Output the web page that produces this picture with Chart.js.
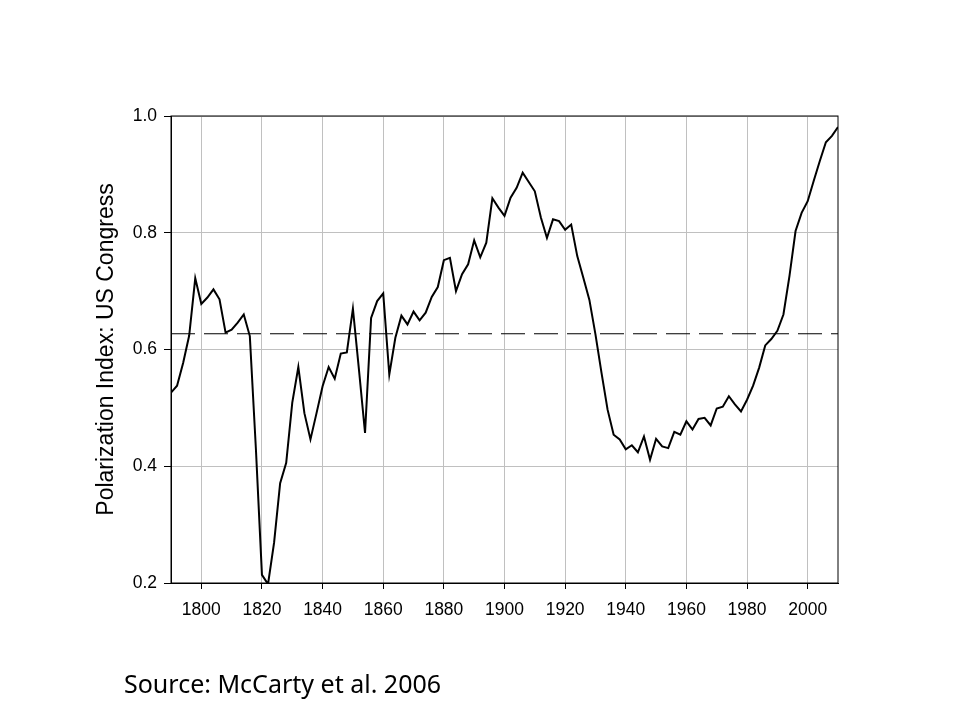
<!DOCTYPE html>
<html>
<head>
<meta charset="utf-8">
<script src="https://cdn.jsdelivr.net/npm/chart.js@4.4.1/dist/chart.umd.min.js"></script>
<style>
  html, body { margin: 0; padding: 0; background: #fff; }
  #wrap { position: relative; width: 960px; height: 720px; }
  #source {
    position: absolute; left: 124px; top: 666px;
    font-family: "Comic Sans MS", "Noto Sans", sans-serif;
    font-size: 25px; color: #000; white-space: nowrap;
  }
</style>
</head>
<body>
<div id="wrap">
  <canvas id="polarChart" width="960" height="720"></canvas>
  <div id="source">Source: McCarty et al. 2006</div>
</div>
<script>
// congress years (every 2 years) and polarization index
const years = [
  1790, 1792, 1794, 1796, 1798, 1800, 1802, 1804, 1806, 1808,
  1810, 1812, 1814, 1816, 1818, 1820, 1822, 1824, 1826, 1828,
  1830, 1832, 1834, 1836, 1838, 1840, 1842, 1844, 1846, 1848,
  1850, 1852, 1854, 1856, 1858, 1860, 1862, 1864, 1866, 1868,
  1870, 1872, 1874, 1876, 1878, 1880, 1882, 1884, 1886, 1888,
  1890, 1892, 1894, 1896, 1898, 1900, 1902, 1904, 1906, 1908,
  1910, 1912, 1914, 1916, 1918, 1920, 1922, 1924, 1926, 1928,
  1930, 1932, 1934, 1936, 1938, 1940, 1942, 1944, 1946, 1948,
  1950, 1952, 1954, 1956, 1958, 1960, 1962, 1964, 1966, 1968,
  1970, 1972, 1974, 1976, 1978, 1980, 1982, 1984, 1986, 1988,
  1990, 1992, 1994, 1996, 1998, 2000, 2002, 2004, 2006, 2008,
  2010
];
const polarization = [
  0.526, 0.538, 0.577, 0.624, 0.722, 0.678, 0.689, 0.703, 0.686, 0.629,
  0.634, 0.646, 0.660, 0.623, 0.430, 0.214, 0.198, 0.269, 0.371, 0.406,
  0.509, 0.570, 0.491, 0.446, 0.491, 0.537, 0.570, 0.550, 0.593, 0.595,
  0.670, 0.565, 0.457, 0.654, 0.683, 0.696, 0.557, 0.620, 0.658, 0.643,
  0.665, 0.650, 0.663, 0.690, 0.707, 0.753, 0.757, 0.700, 0.729, 0.746,
  0.787, 0.758, 0.783, 0.859, 0.843, 0.829, 0.860, 0.877, 0.903, 0.887,
  0.871, 0.826, 0.791, 0.823, 0.820, 0.805, 0.814, 0.760, 0.723, 0.685,
  0.626, 0.560, 0.497, 0.454, 0.446, 0.429, 0.436, 0.424, 0.451, 0.411,
  0.447, 0.434, 0.431, 0.459, 0.454, 0.477, 0.463, 0.481, 0.483, 0.470,
  0.499, 0.502, 0.520, 0.506, 0.494, 0.514, 0.538, 0.569, 0.607, 0.618,
  0.632, 0.660, 0.726, 0.803, 0.834, 0.854, 0.889, 0.923, 0.955, 0.966,
  0.981
];
// long-run mean shown as the dashed reference line
const meanYears = [1790, 2010];
const meanValue = [0.627, 0.627];

const xTicks = [1800, 1820, 1840, 1860, 1880, 1900, 1920, 1940, 1960, 1980, 2000];
const yTicks = [0.2, 0.4, 0.6, 0.8, 1.0];

const frameBox = {
  id: 'frameBox',
  afterDraw(chart) {
    const { ctx, chartArea: a } = chart;
    ctx.save();
    ctx.strokeStyle = '#000';
    ctx.lineWidth = 1;
    ctx.strokeRect(a.left, a.top, a.right - a.left, a.bottom - a.top);
    ctx.restore();
  }
};

const ctx = document.getElementById('polarChart').getContext('2d');
const polarChart = new Chart(ctx, {
  type: 'line',
  data: {
    datasets: [
      {
        label: 'Polarization',
        data: years.map((y, i) => ({ x: y, y: polarization[i] })),
        borderColor: '#000',
        borderWidth: 2,
        pointRadius: 0,
        tension: 0,
        order: 1
      },
      {
        label: 'Mean',
        data: meanYears.map((y, i) => ({ x: y, y: meanValue[i] })),
        borderColor: '#000',
        borderWidth: 1.2,
        borderDash: [24, 9],
        pointRadius: 0,
        order: 2
      }
    ]
  },
  options: {
    responsive: true,
    maintainAspectRatio: false,
    animation: false,
    layout: { padding: { top: 116, right: 122, left: 0, bottom: 0 } },
    plugins: {
      legend: { display: false },
      tooltip: { enabled: false }
    },
    scales: {
      x: {
        type: 'linear',
        min: 1790,
        max: 2010,
        afterBuildTicks: (s) => { s.ticks = xTicks.map(v => ({ value: v })); },
        afterFit: (s) => { s.height = 137; },
        grid: { color: '#c0c0c0', tickColor: '#000', tickLength: 6, lineWidth: 1 },
        border: { color: '#000' },
        ticks: {
          color: '#000',
          padding: 11,
          maxRotation: 0,
          font: { family: 'Liberation Sans, Arial, sans-serif', size: 17.5 },
          callback: (v) => String(v)
        }
      },
      y: {
        min: 0.2,
        max: 1.0,
        afterBuildTicks: (s) => { s.ticks = yTicks.map(v => ({ value: v })); },
        afterFit: (s) => { s.width = 171; },
        grid: { color: '#c0c0c0', tickColor: '#000', tickLength: 7, lineWidth: 1 },
        border: { color: '#000' },
        ticks: {
          color: '#000',
          padding: 7,
          font: { family: 'Liberation Sans, Arial, sans-serif', size: 17.5 },
          callback: (v) => v.toFixed(1)
        },
        title: {
          display: true,
          text: 'Polarization Index: US Congress',
          color: '#000',
          font: { family: 'Liberation Sans, Arial, sans-serif', size: 23 },
          padding: { top: 93, bottom: 0 }
        }
      }
    }
  },
  plugins: [frameBox]
});
</script>
</body>
</html>
